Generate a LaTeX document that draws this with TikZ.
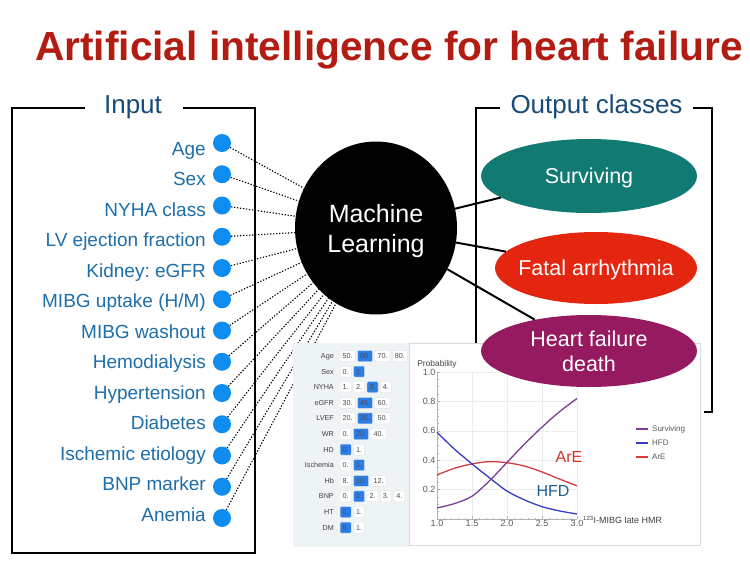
\documentclass[tikz,border=0pt]{standalone}
\usepackage{fontspec}
\setmainfont{Liberation Sans}
\usetikzlibrary{positioning,shapes.geometric}
\definecolor{titlered}{RGB}{178,28,18}
\definecolor{inblue}{RGB}{30,110,170}
\definecolor{dotblue}{RGB}{15,140,240}
\definecolor{hdrblue}{RGB}{25,75,120}
\definecolor{survc}{RGB}{16,122,115}
\definecolor{fatalc}{RGB}{228,38,16}
\definecolor{hfdc}{RGB}{150,26,96}
\definecolor{panelbg}{RGB}{238,243,245}
\definecolor{selblue}{RGB}{45,125,230}
\definecolor{curvsurv}{RGB}{125,60,150}
\definecolor{curvhfd}{RGB}{55,60,200}
\definecolor{curvare}{RGB}{210,60,60}
\definecolor{hfdtxt}{RGB}{30,95,140}
\definecolor{aretxt}{RGB}{210,50,40}
\newcommand\fsz[1]{\fontsize{#1}{#1}\selectfont}
\newcommand\optrow[4]{%
  \node[tlabel] (tl#1) at (334,#2) {#3};
  \foreach \ov/\os [count=\k] in {#4} {
    \ifnum\k=1
      \node[optbox, fill=\os, anchor=west] (o#1\k) at (340,#2) {\ov};
    \else
      \pgfmathtruncatemacro\pk{\k-1}
      \node[optbox, fill=\os, anchor=west] (o#1\k) at ([xshift=2pt]o#1\pk.east) {\ov};
    \fi
  }%
}
\tikzset{
  inlabel/.style={text=inblue, font=\fsz{19}, anchor=base east, inner sep=0},
  indot/.style={circle, fill=dotblue, minimum size=18pt, inner sep=0},
  hdr/.style={text=hdrblue, font=\fsz{26}, inner sep=0, anchor=base},
  boxline/.style={line width=2.8pt, black},
  outcls/.style={ellipse, text=white, font=\fontsize{21.5}{25}\selectfont, align=center, inner xsep=-20pt, inner ysep=0pt},
  link/.style={dash pattern=on 1.3pt off 1.7pt, line width=1.1pt},
  mllink/.style={line width=2pt},
  tlabel/.style={anchor=east, font=\fontsize{7.2}{8}\selectfont, text=black!75, inner sep=0, text height=5pt, text depth=0pt},
  optbox/.style={draw=gray!22, rounded corners=1pt, font=\fontsize{7.2}{8}\selectfont, text=black!70, inner xsep=2.5pt, inner ysep=0pt, minimum height=11pt, text height=5pt, text depth=0pt},
  gridc/.style={gray!15, line width=0.5pt},
  axisc/.style={gray!60, line width=0.6pt},
  ticklab/.style={font=\fsz{9}, text=black!65, inner sep=1.5pt},
  curve/.style={line width=1.3pt},
  legtxt/.style={font=\fsz{8}, text=black!65, anchor=west, inner sep=0},
}
\begin{document}
\frenchspacing
\begin{tikzpicture}[x=1pt, y=-1pt]
\useasboundingbox (0,0) rectangle (750,563);
\fill[white] (0,0) rectangle (750,563);

% title
\node[font=\bfseries\fontsize{40.7}{44}\selectfont, text=titlered, anchor=base, inner sep=0] (title) at (389,60) {Artificial intelligence for heart failure};

% input frame
\draw[boxline] (85,108) -- (12,108) -- (12,553) -- (255,553) -- (255,108) -- (183,108);
\node[hdr] (inhdr) at (133,113) {Input};

% machine learning
\node[ellipse, fill=black, minimum width=162pt, minimum height=173pt, text=white, font=\fontsize{25}{30}\selectfont, align=center, inner sep=0] (ml) at (376,228) {\rule{0pt}{24pt}Machine\\Learning};

% inputs
\foreach \t [count=\i from 0] in {Age, Sex, NYHA class, LV ejection fraction, Kidney: eGFR, {MIBG uptake (H/M)}, MIBG washout, Hemodialysis, Hypertension, Diabetes, Ischemic etiology, BNP marker, Anemia} {
  \node[indot] (d\i) at (222, {143+31.25*\i}) {};
  \node[inlabel] (l\i) at (206, {155+30.5*\i}) {\t};
  \draw[link] (d\i) -- (ml);
}

% output bracket
\draw[boxline] (500,108) -- (476,108) -- (476,343);
\draw[boxline] (693,108) -- (712,108) -- (712,412) -- (704,412);
\node[hdr] (outhdr) at (596.5,113) {Output classes};

% table panel
\fill[panelbg] (293,343) rectangle (409,547);
\optrow{a}{356}{Age}{50./white,60./selblue,70./white,80./white}
\optrow{b}{371.6}{Sex}{0./white,1./selblue}
\optrow{c}{387.2}{NYHA}{1./white,2./white,3./selblue,4./white}
\optrow{d}{402.8}{eGFR}{30./white,45./selblue,60./white}
\optrow{e}{418.4}{LVEF}{20./white,35./selblue,50./white}
\optrow{f}{434}{WR}{0./white,20./selblue,40./white}
\optrow{g}{449.6}{HD}{0./selblue,1./white}
\optrow{h}{465.2}{Ischemia}{0./white,1./selblue}
\optrow{i}{480.8}{Hb}{8./white,10./selblue,12./white}
\optrow{j}{496.4}{BNP}{0./white,1./selblue,2./white,3./white,4./white}
\optrow{k}{512}{HT}{0./selblue,1./white}
\optrow{l}{527.6}{DM}{0./selblue,1./white}

% plot panel
\draw[gray!30, fill=white, line width=0.6pt] (409,343) rectangle (700,545);
\begin{scope}[shift={(437,519)}, x=70pt, y=147pt]
  \foreach \gx in {0.5,1,1.5,2} \draw[gridc] (\gx,0) -- (\gx,1);
  \foreach \gy in {0.2,0.4,0.6,0.8,1} \draw[gridc] (0,\gy) -- (2,\gy);
  \draw[axisc] (0,0) -- (2,0);
  \draw[axisc] (0,0) -- (0,1);
  \foreach \m in {0,0.1,...,2.01} \draw[axisc, line width=0.4pt] (\m,0) -- ++(0pt,1.5pt);
  \foreach \m in {0,0.5,1,1.5,2} \draw[axisc] (\m,0) -- ++(0pt,3pt);
  \foreach \m in {0,0.05,...,1.01} \draw[axisc, line width=0.4pt] (0,\m) -- ++(1.5pt,0pt);
  \foreach \m in {0,0.2,0.4,0.6,0.8,1} \draw[axisc] (0,\m) -- ++(3pt,0pt);
  \foreach \m/\lab [count=\j] in {0/1.0,0.5/1.5,1/2.0,1.5/2.5,2/3.0}
    \node[ticklab, below] (xt\j) at (\m,0) {\lab};
  \foreach \m/\lab [count=\j] in {0.2/0.2,0.4/0.4,0.6/0.6,0.8/0.8,1/1.0}
    \node[ticklab, left] (yt\j) at (0,\m) {\lab};
  \draw[curve, curvare] plot[smooth] coordinates {(0,0.30) (0.25,0.345) (0.5,0.375) (0.75,0.39) (1.0,0.383) (1.25,0.36) (1.5,0.32) (1.75,0.272) (2,0.226)};
  \draw[curve, curvhfd] plot[smooth] coordinates {(0,0.59) (0.25,0.475) (0.5,0.375) (0.75,0.28) (1.0,0.19) (1.25,0.13) (1.5,0.084) (1.75,0.055) (2,0.034)};
  \draw[curve, curvsurv] plot[smooth] coordinates {(0,0.075) (0.25,0.105) (0.5,0.155) (0.75,0.26) (1.0,0.385) (1.25,0.51) (1.5,0.625) (1.75,0.73) (2,0.82)};
\end{scope}
\node[font=\fsz{8.4}, text=black!75, inner sep=0] (ylab) at (437,364) {Probability};
\node[font=\fsz{9}, text=black!75, anchor=west, inner sep=0] (xlab) at (583,520) {\textsuperscript{123}I-MIBG late HMR};
\node[font=\fsz{16}, text=aretxt, inner sep=0] (arelab) at (569,457) {ArE};
\node[font=\fsz{16}, text=hfdtxt, inner sep=0] (hfdlab) at (553,491) {HFD};
\draw[curve, curvsurv] (636,429) -- (648,429);
\draw[curve, curvhfd] (636,443) -- (648,443);
\draw[curve, curvare] (636,457) -- (648,457);
\node[legtxt] (lg1) at (652,429) {Surviving};
\node[legtxt] (lg2) at (652,443) {HFD};
\node[legtxt] (lg3) at (652,457) {ArE};

% output classes
\node[outcls, fill=survc, minimum width=216pt, minimum height=74pt] (surv) at (589,176) {\rule{0pt}{18.5pt}Surviving};
\node[outcls, fill=fatalc, minimum width=202pt, minimum height=72pt] (fatal) at (596,268) {\rule{0pt}{18.5pt}Fatal arrhythmia};
\node[outcls, fill=hfdc, minimum width=216pt, minimum height=72pt] (hfd) at (589,351) {Heart failure\\death};

\draw[mllink] (ml) -- (surv);
\draw[mllink] (ml) -- (fatal);
\draw[mllink] (ml) -- (hfd);
\end{tikzpicture}
\end{document}
